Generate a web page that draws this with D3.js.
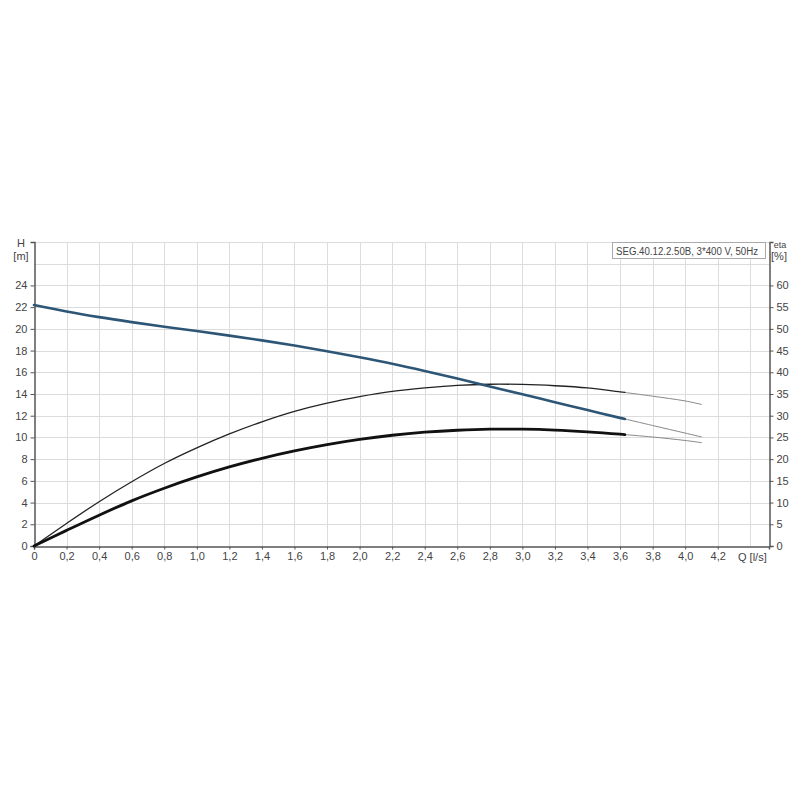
<!DOCTYPE html>
<html>
<head>
<meta charset="utf-8">
<script src="https://cdn.jsdelivr.net/npm/d3@7"></script>
<style>
  body { margin: 0; background: #fff; }
  text { font-family: Arial, "Liberation Sans", sans-serif; fill: #444; }
</style>
</head>
<body>
<div id="chart"></div>
<script>
// flow values [l/s]
var flow = [0, 0.2, 0.4, 0.6, 0.8, 1.0, 1.2, 1.4, 1.6, 1.8, 2.0, 2.2, 2.4, 2.6, 2.8, 3.0, 3.2, 3.4, 3.6, 3.63, 3.8, 4.0, 4.1];
// head H [m]
var head = [22.2, 21.6, 21.08, 20.62, 20.2, 19.8, 19.38, 18.94, 18.46, 17.94, 17.38, 16.78, 16.12, 15.42, 14.7, 13.97, 13.25, 12.52, 11.8, 11.7, 11.1, 10.4, 10.05];
// efficiency curves [%]
var etaPump = [0, 5.2, 10.2, 14.8, 19.0, 22.6, 25.8, 28.6, 31.0, 32.9, 34.4, 35.6, 36.4, 37.0, 37.25, 37.2, 36.9, 36.4, 35.5, 35.35, 34.5, 33.4, 32.6];
var etaTotal = [0, 3.6, 7.1, 10.4, 13.3, 15.9, 18.2, 20.2, 21.9, 23.35, 24.55, 25.5, 26.2, 26.65, 26.9, 26.9, 26.7, 26.3, 25.75, 25.65, 25.1, 24.3, 23.8];

var dutyEnd = 3.63;

var xTicks = [0, 0.2, 0.4, 0.6, 0.8, 1.0, 1.2, 1.4, 1.6, 1.8, 2.0, 2.2, 2.4, 2.6, 2.8, 3.0, 3.2, 3.4, 3.6, 3.8, 4.0, 4.2];
var xGrid = xTicks.concat([4.4]);
var hTicks = [0, 2, 4, 6, 8, 10, 12, 14, 16, 18, 20, 22, 24];
var hGrid = [2, 4, 6, 8, 10, 12, 14, 16, 18, 20, 22, 24, 26, 28];
var etaTicks = [0, 5, 10, 15, 20, 25, 30, 35, 40, 45, 50, 55, 60];

var title = "SEG.40.12.2.50B, 3*400 V, 50Hz";

var width = 800, height = 800;
var plotLeft = 34, plotRight = 769, plotTop = 242, plotBottom = 546;

var svg = d3.select("#chart").append("svg")
    .attr("width", width)
    .attr("height", height);

var x = d3.scaleLinear().domain([0, 4.515]).range([plotLeft, plotRight]);
var y = d3.scaleLinear().domain([0, 28]).range([plotBottom, plotTop]);
var yEta = d3.scaleLinear().domain([0, 70]).range([plotBottom, plotTop]);

var fmt = function (d) { return d === 0 ? "0" : d3.format(".1f")(d).replace(".", ","); };

// grid
var grid = svg.append("g").attr("stroke", "#dcdcdc").attr("stroke-width", 1);
grid.selectAll("line.v").data(xGrid.slice(1)).enter().append("line")
    .attr("x1", function (d) { return Math.round(x(d)) + 0.5; })
    .attr("x2", function (d) { return Math.round(x(d)) + 0.5; })
    .attr("y1", plotTop).attr("y2", plotBottom);
grid.selectAll("line.h").data(hGrid).enter().append("line")
    .attr("x1", plotLeft).attr("x2", plotRight)
    .attr("y1", function (d) { return Math.round(y(d)) + 0.5; })
    .attr("y2", function (d) { return Math.round(y(d)) + 0.5; });

// axes
var axisColor = "#555";
var gx = svg.append("g")
    .attr("transform", "translate(0," + (plotBottom + 0.5) + ")")
    .call(d3.axisBottom(x).tickValues(xTicks).tickFormat(fmt).tickSize(3).tickPadding(3));
var gy = svg.append("g")
    .attr("transform", "translate(" + (plotLeft + 0.5) + ",0)")
    .call(d3.axisLeft(y).tickValues(hTicks).tickFormat(d3.format("d")).tickSize(4).tickPadding(3));
var gr = svg.append("g")
    .attr("transform", "translate(" + (plotRight + 0.5) + ",0)")
    .call(d3.axisRight(yEta).tickValues(etaTicks).tickFormat(d3.format("d")).tickSize(4).tickPadding(3));

[gx, gy, gr].forEach(function (g) {
    g.select(".domain").attr("stroke", axisColor).attr("stroke-width", 1.5);
    g.selectAll(".tick line").attr("stroke", axisColor);
    g.selectAll(".tick text").attr("fill", "#444").style("font-size", "11px")
        .style("font-family", "Arial, 'Liberation Sans', sans-serif");
});

// axis titles
svg.append("text").attr("x", 21).attr("y", 247).attr("text-anchor", "middle")
    .style("font-size", "11px").text("H");
svg.append("text").attr("x", 21).attr("y", 260).attr("text-anchor", "middle")
    .style("font-size", "11px").text("[m]");
svg.append("text").attr("x", 780).attr("y", 248).attr("text-anchor", "middle")
    .style("font-size", "9px").text("eta");
svg.append("text").attr("x", 779).attr("y", 260).attr("text-anchor", "middle")
    .style("font-size", "11px").text("[%]");
svg.append("text").attr("x", 738).attr("y", 561)
    .style("font-size", "11px").text("Q [l/s]");

// legend box
svg.append("rect").attr("x", 612.5).attr("y", 242.5).attr("width", 153).attr("height", 16)
    .attr("fill", "#fff").attr("stroke", "#aaa");
svg.append("text").attr("x", 616).attr("y", 254.5)
    .style("font-size", "10px").attr("fill", "#444")
    .attr("textLength", 142).attr("lengthAdjust", "spacingAndGlyphs")
    .text(title);

// curves
function series(values, scale) {
    return flow.map(function (q, i) { return { q: q, v: values[i], s: scale }; });
}
var line = d3.line()
    .x(function (d) { return x(d.q); })
    .y(function (d) { return d.s(d.v); })
    .curve(d3.curveCatmullRom.alpha(0.5));

var curves = [
    { data: series(etaPump, yEta), color: "#222", width: 1.3 },
    { data: series(etaTotal, yEta), color: "#111", width: 2.8 },
    { data: series(head, y), color: "#2d5676", width: 2.6 }
];

var g = svg.append("g").attr("fill", "none").attr("stroke-linecap", "round");
curves.forEach(function (c) {
    g.append("path")
        .datum(c.data.filter(function (d) { return d.q >= dutyEnd; }))
        .attr("d", line)
        .attr("stroke", "#888")
        .attr("stroke-width", 1);
    g.append("path")
        .datum(c.data.filter(function (d) { return d.q <= dutyEnd; }))
        .attr("d", line)
        .attr("stroke", c.color)
        .attr("stroke-width", c.width);
});
</script>
</body>
</html>
